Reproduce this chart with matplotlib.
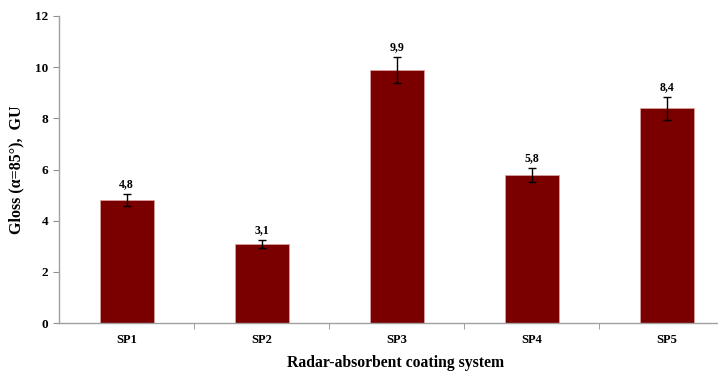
import matplotlib
matplotlib.use("Agg")
import matplotlib.pyplot as plt
import numpy as np

systems = ["SP1", "SP2", "SP3", "SP4", "SP5"]
gloss = [4.8, 3.1, 9.9, 5.8, 8.4]
gloss_err = [0.23, 0.15, 0.5, 0.27, 0.45]
value_labels = ["4,8", "3,1", "9,9", "5,8", "8,4"]

plt.rcParams['font.family'] = ['Liberation Serif', 'DejaVu Serif']

fig = plt.figure(figsize=(7.18, 3.72), dpi=100)
ax = fig.add_axes([59 / 718, 49 / 372, 675 / 718, 307 / 372])

x = np.arange(len(systems))
ax.bar(x, gloss, width=0.4, color="#7a0000", edgecolor="#d9a0a0", linewidth=0.6, zorder=2)
ax.errorbar(x, gloss, yerr=gloss_err, fmt="none", ecolor="black", elinewidth=1.0,
            capsize=3, capthick=1.0, zorder=3)

for xi, v, e, lab in zip(x, gloss, gloss_err, value_labels):
    ax.text(xi, v + e + 0.15, lab, ha="center", va="bottom", fontsize=8.5, fontweight="bold")

ax.set_xlim(-0.5, len(systems) - 0.5)
ax.set_ylim(0, 12)
ax.set_yticks(range(0, 13, 2))
ax.set_xticks(x)
ax.set_xticklabels(systems, fontsize=9, fontweight="bold")
ax.set_xticks(np.arange(0.5, len(systems) - 0.5, 1), minor=True)
ax.tick_params(axis="x", which="major", length=0, pad=8)
ax.tick_params(axis="x", which="minor", length=4, color="#909090", direction="out")
ax.tick_params(axis="y", length=4, color="#909090", direction="out", labelsize=9.5)
for t in ax.get_yticklabels():
    t.set_fontweight("bold")

for s in ["top", "right"]:
    ax.spines[s].set_visible(False)
for s in ["left", "bottom"]:
    ax.spines[s].set_color("#a0a0a0")
    ax.spines[s].set_linewidth(1.0)

ax.set_xlabel("Radar-absorbent coating system", fontsize=11.3, fontweight="bold")
ax.set_ylabel("Gloss (α=85°),  GU", fontsize=11.5, fontweight="bold")
ax.xaxis.set_label_coords(337 / 675, -32 / 307)
ax.yaxis.set_label_coords(-35 / 675, 0.5)

fig.savefig("out.png", dpi=100)
